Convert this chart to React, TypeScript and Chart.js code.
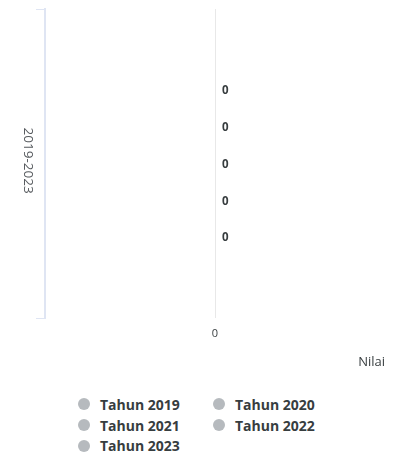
import React, { useEffect, useRef } from "react";
import { Chart, registerables } from "chart.js";

Chart.register(...registerables);

const categories = ["2019-2023"];
const seriesNames = ["Tahun 2019", "Tahun 2020", "Tahun 2021", "Tahun 2022", "Tahun 2023"];
const values2019 = [0];
const values2020 = [0];
const values2021 = [0];
const values2022 = [0];
const values2023 = [0];
const seriesValues = [values2019, values2020, values2021, values2022, values2023];
const xTickLabels = ["0"];
const xTitle = "Nilai";

const GREY = "#b6babe";
const TEXT = "#373d3f";
const FONT = "'Open Sans', sans-serif";

const categoryLabelPlugin = {
  id: "categoryLabel",
  afterDraw(chart: any) {
    const yScale = chart.scales.y;
    const ctx = chart.ctx;
    ctx.save();
    ctx.font = `13.5px ${FONT}`;
    ctx.fillStyle = "#55595d";
    ctx.textAlign = "center";
    ctx.textBaseline = "middle";
    categories.forEach((c, i) => {
      const y = yScale.getPixelForTick(i);
      ctx.save();
      ctx.translate(20, y - 3);
      ctx.rotate(Math.PI / 2);
      ctx.fillText(c, 0, 0);
      ctx.restore();
    });
    ctx.restore();
  },
};

const dataLabelPlugin = {
  id: "dataLabels",
  afterDatasetsDraw(chart: any) {
    const ctx = chart.ctx;
    ctx.save();
    ctx.font = `bold 11.5px ${FONT}`;
    ctx.fillStyle = TEXT;
    ctx.textAlign = "left";
    ctx.textBaseline = "middle";
    chart.data.datasets.forEach((ds: any, di: number) => {
      const meta = chart.getDatasetMeta(di);
      meta.data.forEach((el: any, i: number) => {
        ctx.fillText(String(ds.data[i]), el.x + 7, el.y + 1);
      });
    });
    ctx.restore();
  },
};

export default function App() {
  const ref = useRef<HTMLCanvasElement | null>(null);

  useEffect(() => {
    if (!ref.current) return;
    const chart = new Chart(ref.current, {
      type: "bar",
      data: {
        labels: categories,
        datasets: seriesNames.map((name, i) => ({
          label: name,
          data: seriesValues[i],
          backgroundColor: GREY,
          borderWidth: 0,
          categoryPercentage: 0.595,
          barPercentage: 1,
        })),
      },
      options: {
        indexAxis: "y",
        animation: false,
        responsive: false,
        maintainAspectRatio: false,
        layout: { padding: { top: 1, right: 17, left: 0, bottom: 0 } },
        plugins: {
          legend: { display: false },
          tooltip: { enabled: false },
        },
        scales: {
          x: {
            type: "linear",
            min: -1,
            max: 1,
            ticks: {
              stepSize: 1,
              padding: 9,
              color: TEXT,
              font: { family: FONT, size: 11 },
              callback: (v: any) => (Number(v) === 0 ? xTickLabels[0] : ""),
            },
            grid: {
              drawTicks: false,
              color: (c: any) => (c.tick && c.tick.value === 0 ? "#e8e8e8" : "rgba(0,0,0,0)"),
            },
            border: { display: false },
            title: {
              display: true,
              text: xTitle,
              align: "end",
              color: TEXT,
              font: { family: FONT, size: 13 },
              padding: { top: 5, bottom: 0 },
            },
          },
          y: {
            ticks: { display: false },
            grid: {
              drawOnChartArea: false,
              drawTicks: true,
              tickLength: 9,
              color: "#dfe5f3",
              lineWidth: 1,
            },
            border: { display: true, color: "#dfe5f3", width: 2 },
            afterFit: (scale: any) => {
              scale.width = 37;
            },
          },
        },
      },
      plugins: [categoryLabelPlugin, dataLabelPlugin],
    } as any);
    return () => chart.destroy();
  }, []);

  return (
    <div style={{ width: 394, fontFamily: FONT }}>
      <canvas ref={ref} width={394} height={362} style={{ display: "block" }} />
      <div
        style={{
          marginTop: 24,
          paddingLeft: 70,
          display: "grid",
          gridTemplateColumns: "135px 135px",
          rowGap: 0,
        }}
      >
        {seriesNames.map((name) => (
          <div
            key={name}
            style={{ display: "flex", alignItems: "center", height: 20.8 }}
          >
            <span
              style={{
                width: 12,
                height: 12,
                borderRadius: "50%",
                background: GREY,
                marginRight: 10,
                flex: "none",
              }}
            />
            <span style={{ fontSize: 14, fontWeight: 700, color: TEXT }}>{name}</span>
          </div>
        ))}
      </div>
    </div>
  );
}
